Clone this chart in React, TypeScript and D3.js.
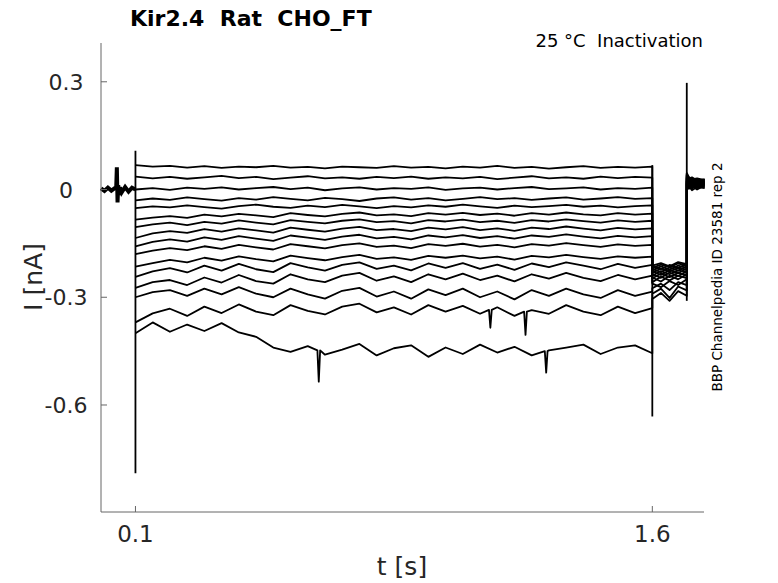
import React from 'react';
import * as d3 from 'd3';

// Kir2.4 inactivation protocol, currents in nA, time in s
const xTicks = [0.1, 1.6];
const yTicks = [0.3, 0, -0.3, -0.6];

// holding segment before the step (all sweeps overlap here)
const preTime = [0, 0.01, 0.02, 0.03, 0.04, 0.044, 0.046, 0.047, 0.048, 0.05, 0.052, 0.055, 0.06, 0.07, 0.08, 0.09, 0.1];
const preCurrent = [0.003, -0.004, 0.005, -0.003, 0.004, 0.002, 0.062, 0.012, -0.036, 0.012, -0.015, 0.006, -0.008, 0.007, -0.006, 0.005, 0];

// step 0.1 .. 1.6 s, sampled every 50 ms
const sweep1 = [0.068, 0.064, 0.066, 0.061, 0.065, 0.060, 0.064, 0.062, 0.066, 0.061, 0.063, 0.059, 0.064, 0.062, 0.060, 0.065, 0.061, 0.063, 0.059, 0.064, 0.061, 0.066, 0.060, 0.063, 0.058, 0.062, 0.065, 0.060, 0.063, 0.061, 0.064];
const sweep2 = [0.036, 0.031, 0.035, 0.030, 0.034, 0.038, 0.032, 0.035, 0.029, 0.033, 0.037, 0.031, 0.034, 0.030, 0.035, 0.032, 0.036, 0.030, 0.034, 0.031, 0.035, 0.029, 0.033, 0.037, 0.031, 0.034, 0.030, 0.036, 0.032, 0.035, 0.033];
const sweep3 = [0.000, 0.004, -0.001, 0.005, 0.002, 0.006, 0.000, 0.004, 0.007, 0.001, 0.005, -0.002, 0.003, 0.006, 0.000, 0.004, 0.002, 0.006, -0.001, 0.003, 0.005, 0.000, 0.004, 0.007, 0.001, 0.003, 0.006, 0.000, 0.004, 0.002, 0.005];
const sweep4 = [-0.030, -0.025, -0.029, -0.022, -0.027, -0.031, -0.024, -0.028, -0.021, -0.026, -0.030, -0.023, -0.027, -0.032, -0.025, -0.022, -0.028, -0.024, -0.030, -0.026, -0.021, -0.027, -0.024, -0.029, -0.025, -0.022, -0.028, -0.025, -0.021, -0.026, -0.024];
const sweep5 = [-0.052, -0.047, -0.050, -0.044, -0.049, -0.053, -0.046, -0.042, -0.048, -0.051, -0.045, -0.049, -0.043, -0.047, -0.052, -0.046, -0.050, -0.044, -0.048, -0.042, -0.047, -0.051, -0.045, -0.049, -0.046, -0.043, -0.048, -0.045, -0.050, -0.046, -0.044];
const sweep6 = [-0.084, -0.078, -0.074, -0.079, -0.070, -0.075, -0.068, -0.072, -0.077, -0.066, -0.071, -0.075, -0.068, -0.064, -0.072, -0.069, -0.074, -0.066, -0.070, -0.065, -0.071, -0.067, -0.073, -0.066, -0.070, -0.064, -0.069, -0.072, -0.066, -0.070, -0.067];
const sweep7 = [-0.105, -0.097, -0.092, -0.099, -0.090, -0.095, -0.086, -0.092, -0.097, -0.085, -0.090, -0.094, -0.087, -0.083, -0.091, -0.088, -0.094, -0.085, -0.089, -0.084, -0.091, -0.087, -0.093, -0.085, -0.089, -0.083, -0.088, -0.092, -0.086, -0.090, -0.087];
const sweep8 = [-0.135, -0.122, -0.116, -0.121, -0.110, -0.117, -0.108, -0.114, -0.120, -0.106, -0.112, -0.117, -0.109, -0.104, -0.113, -0.110, -0.116, -0.106, -0.111, -0.105, -0.113, -0.108, -0.115, -0.106, -0.110, -0.103, -0.109, -0.114, -0.107, -0.111, -0.108];
const sweep9 = [-0.158, -0.146, -0.139, -0.145, -0.133, -0.140, -0.130, -0.137, -0.143, -0.128, -0.134, -0.140, -0.131, -0.126, -0.136, -0.132, -0.139, -0.128, -0.133, -0.127, -0.135, -0.130, -0.137, -0.128, -0.132, -0.125, -0.131, -0.136, -0.129, -0.133, -0.130];
const sweep10 = [-0.180, -0.170, -0.163, -0.169, -0.158, -0.165, -0.154, -0.161, -0.167, -0.152, -0.158, -0.164, -0.155, -0.150, -0.160, -0.156, -0.163, -0.152, -0.157, -0.151, -0.159, -0.154, -0.161, -0.152, -0.156, -0.149, -0.155, -0.160, -0.153, -0.157, -0.154];
const sweep11 = [-0.215, -0.205, -0.196, -0.203, -0.190, -0.198, -0.186, -0.194, -0.200, -0.184, -0.191, -0.197, -0.188, -0.182, -0.193, -0.189, -0.196, -0.185, -0.190, -0.184, -0.192, -0.187, -0.195, -0.185, -0.189, -0.182, -0.188, -0.193, -0.186, -0.190, -0.187];
const sweep12 = [-0.243, -0.228, -0.219, -0.231, -0.212, -0.226, -0.207, -0.222, -0.230, -0.205, -0.217, -0.226, -0.210, -0.203, -0.221, -0.212, -0.225, -0.206, -0.218, -0.205, -0.221, -0.209, -0.224, -0.206, -0.216, -0.203, -0.212, -0.222, -0.207, -0.218, -0.210];
const sweep13 = [-0.274, -0.258, -0.252, -0.266, -0.245, -0.259, -0.238, -0.255, -0.262, -0.236, -0.250, -0.258, -0.240, -0.232, -0.254, -0.242, -0.258, -0.236, -0.250, -0.234, -0.252, -0.240, -0.256, -0.236, -0.248, -0.232, -0.246, -0.255, -0.238, -0.250, -0.240];
const sweep14 = [-0.300, -0.286, -0.280, -0.296, -0.276, -0.292, -0.272, -0.290, -0.300, -0.276, -0.292, -0.304, -0.282, -0.274, -0.298, -0.284, -0.304, -0.278, -0.294, -0.276, -0.300, -0.284, -0.306, -0.280, -0.296, -0.276, -0.292, -0.302, -0.280, -0.296, -0.284];
const sweep15 = [-0.370, -0.345, -0.332, -0.352, -0.326, -0.344, -0.320, -0.340, -0.350, -0.322, -0.338, -0.348, -0.326, -0.318, -0.342, -0.328, -0.348, -0.322, -0.340, -0.324, -0.346, -0.328, -0.352, -0.336, -0.346, -0.322, -0.340, -0.350, -0.326, -0.344, -0.330];
const sweep16 = [-0.400, -0.370, -0.396, -0.376, -0.394, -0.372, -0.398, -0.410, -0.440, -0.452, -0.436, -0.460, -0.446, -0.430, -0.462, -0.442, -0.434, -0.466, -0.440, -0.458, -0.432, -0.454, -0.438, -0.462, -0.448, -0.440, -0.432, -0.458, -0.440, -0.434, -0.456];

// short downward spikes on single sweeps (sweep number, time, flank level, peak)
const spikeSweep = [16, 16, 15, 15];
const spikeTime = [0.632, 1.292, 1.232, 1.13];
const spikeBase = [-0.448, -0.450, -0.340, -0.335];
const spikePeak = [-0.535, -0.51, -0.405, -0.385];

// tail 1.6 .. 1.7 s
const tailTime = [1.6, 1.625, 1.65, 1.675, 1.7];
const tail1 = [-0.212, -0.205, -0.214, -0.202, -0.208];
const tail2 = [-0.218, -0.209, -0.216, -0.206, -0.211];
const tail3 = [-0.215, -0.222, -0.210, -0.219, -0.207];
const tail4 = [-0.225, -0.214, -0.223, -0.212, -0.218];
const tail5 = [-0.221, -0.230, -0.217, -0.226, -0.214];
const tail6 = [-0.232, -0.220, -0.229, -0.218, -0.224];
const tail7 = [-0.228, -0.238, -0.224, -0.233, -0.220];
const tail8 = [-0.240, -0.227, -0.236, -0.225, -0.231];
const tail9 = [-0.236, -0.246, -0.231, -0.241, -0.228];
const tail10 = [-0.248, -0.234, -0.244, -0.232, -0.239];
const tail11 = [-0.245, -0.256, -0.240, -0.250, -0.236];
const tail12 = [-0.258, -0.243, -0.253, -0.240, -0.247];
const tail13 = [-0.262, -0.272, -0.255, -0.266, -0.250];
const tail14 = [-0.275, -0.262, -0.280, -0.258, -0.266];
const tail15 = [-0.290, -0.276, -0.302, -0.270, -0.281];
const tail16 = [-0.305, -0.288, -0.310, -0.283, -0.296];

// back to holding, 1.7 .. 1.752 s
const postTime = [1.7, 1.706, 1.715, 1.73, 1.752];
const post1 = [0.046, 0.035, 0.028, 0.031, 0.026];
const post2 = [0.042, 0.030, 0.034, 0.025, 0.029];
const post3 = [0.044, 0.026, 0.031, 0.022, 0.027];
const post4 = [0.040, 0.033, 0.024, 0.029, 0.021];
const post5 = [0.038, 0.022, 0.030, 0.020, 0.025];
const post6 = [0.036, 0.029, 0.019, 0.027, 0.018];
const post7 = [0.034, 0.018, 0.026, 0.016, 0.023];
const post8 = [0.032, 0.025, 0.015, 0.024, 0.015];
const post9 = [0.030, 0.014, 0.022, 0.012, 0.020];
const post10 = [0.028, 0.021, 0.011, 0.019, 0.012];
const post11 = [0.026, 0.010, 0.018, 0.008, 0.017];
const post12 = [0.024, 0.017, 0.007, 0.015, 0.009];
const post13 = [0.022, 0.006, 0.014, 0.004, 0.014];
const post14 = [0.020, 0.013, 0.003, 0.011, 0.006];
const post15 = [0.018, 0.002, 0.010, 0.000, 0.011];
const post16 = [0.016, 0.009, -0.002, 0.007, 0.004];

const sweeps = [sweep1, sweep2, sweep3, sweep4, sweep5, sweep6, sweep7, sweep8, sweep9, sweep10, sweep11, sweep12, sweep13, sweep14, sweep15, sweep16];
const tails = [tail1, tail2, tail3, tail4, tail5, tail6, tail7, tail8, tail9, tail10, tail11, tail12, tail13, tail14, tail15, tail16];
const posts = [post1, post2, post3, post4, post5, post6, post7, post8, post9, post10, post11, post12, post13, post14, post15, post16];

// capacitive transients at the voltage steps
const transientTime = [0.1, 1.6, 1.7];
const transientTop = [0.108, 0.068, 0.297];
const transientBottom = [-0.79, -0.632, -0.31];

const App: React.FC = () => {
    const width = 778;
    const height = 583;
    const axisColor = '#666666';
    const textColor = '#262626';
    const font = '"DejaVu Sans", sans-serif';

    const x = d3.scaleLinear().domain([0, 1.75]).range([101, 704]);
    const y = d3.scaleLinear().domain([-0.898, 0.408]).range([512, 43]);

    const stepTime = d3.range(sweep1.length).map(i => 0.1 + i * 0.05);

    const line = d3.line<[number, number]>()
        .x(d => x(d[0]))
        .y(d => y(d[1]));

    const prePath = line(preTime.map((t, i) => [t, preCurrent[i]]));

    const sweepPaths = sweeps.map((s, k) => {
        const pts: [number, number][] = [];
        s.forEach((v, i) => pts.push([stepTime[i], v]));
        spikeSweep.forEach((n, j) => {
            if (n !== k + 1) return;
            pts.push([spikeTime[j] - 0.004, spikeBase[j]]);
            pts.push([spikeTime[j], spikePeak[j]]);
            pts.push([spikeTime[j] + 0.004, spikeBase[j]]);
        });
        pts.sort((a, b) => a[0] - b[0]);
        tailTime.forEach((t, i) => pts.push([t, tails[k][i]]));
        postTime.forEach((t, i) => pts.push([t, posts[k][i]]));
        return line(pts);
    });

    return (
        <svg width={width} height={height}
            style={{ position: 'absolute', left: 0, top: 0, background: '#fff' }}>
            {/* traces */}
            <path d={prePath!} fill="none" stroke="#000" strokeWidth={4} />
            {sweepPaths.map((d, i) => (
                <path key={i} d={d!} fill="none" stroke="#000" strokeWidth={1.8} strokeLinejoin="round" />
            ))}
            {transientTime.map((t, i) => (
                <line key={i} x1={x(t)} x2={x(t)} y1={y(transientTop[i])} y2={y(transientBottom[i])}
                    stroke="#000" strokeWidth={1.8} />
            ))}

            {/* axes */}
            <line x1={x(0)} x2={x(0)} y1={y(0.408)} y2={y(-0.898)} stroke={axisColor} strokeWidth={1} />
            <line x1={x(0)} x2={x(1.75)} y1={y(-0.898)} y2={y(-0.898)} stroke={axisColor} strokeWidth={1} />
            {yTicks.map(t => (
                <g key={t}>
                    <line x1={x(0)} x2={x(0) + 6} y1={y(t)} y2={y(t)} stroke={axisColor} />
                    <text x={66} y={y(t) + 8} textAnchor="middle" fontFamily={font} fontSize={22} fill={textColor}>
                        {String(t).replace('\u2212', '-')}
                    </text>
                </g>
            ))}
            {xTicks.map(t => (
                <g key={t}>
                    <line x1={x(t)} x2={x(t)} y1={y(-0.898)} y2={y(-0.898) - 6} stroke={axisColor} />
                    <text x={x(t)} y={542} textAnchor="middle" fontFamily={font} fontSize={23} fill={textColor}>
                        {t}
                    </text>
                </g>
            ))}

            {/* labels */}
            <text x={402} y={575} textAnchor="middle" fontFamily={font} fontSize={25} fill={textColor}>t [s]</text>
            <text transform={`translate(42, 277) rotate(-90)`} textAnchor="middle" fontFamily={font} fontSize={25} fill={textColor}>I [nA]</text>
            <text x={130} y={26} fontFamily={font} fontSize={22} fontWeight="bold" fill="#000" style={{ whiteSpace: 'pre' }}>Kir2.4  Rat  CHO_FT</text>
            <text x={703} y={47} textAnchor="end" fontFamily={font} fontSize={18} fill="#000" style={{ whiteSpace: 'pre' }}>25 °C  Inactivation</text>
            <text transform={`translate(722, 277) rotate(-90)`} textAnchor="middle" fontFamily={font} fontSize={13.5} fill="#000">BBP Channelpedia ID 23581 rep 2</text>
        </svg>
    );
};

export default App;
